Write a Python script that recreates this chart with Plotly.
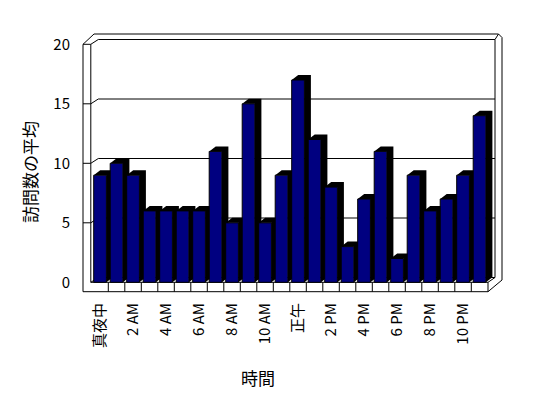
import plotly.graph_objects as go

# ---------------- data ----------------
hour_index = list(range(24))
visits = [9, 10, 9, 6, 6, 6, 6, 11, 5, 15, 5, 9, 17, 12, 8, 3, 7, 11, 2, 9, 6, 7, 9, 14]
tick_positions = [0, 2, 4, 6, 8, 10, 12, 14, 16, 18, 20, 22]
tick_labels = ["真夜中", "2 AM", "4 AM", "6 AM", "8 AM", "10 AM", "正午",
               "2 PM", "4 PM", "6 PM", "8 PM", "10 PM"]
y_ticks = [0, 5, 10, 15, 20]
x_title = "時間"
y_title = "訪問数の平均"

# ---------------- geometry (pixels) ----------------
W, H = 548, 398
PL, PR, PT, PB = 80, 506, 30, 296      # plot area edges
CAT0, CATW = 91.8, 16.5                 # category band start / width
Y0PX, YUNIT = 282.3, 11.9               # pixel of value 0, pixels per unit
BW = 0.77                               # bar width fraction
BDX, BDY = 6.5, 5.0                     # bar depth offsets (px)
WDX, WDY = 7.5, 4.8                     # wall depth offsets (px)


def X(px):
    return (px - CAT0) / CATW - 0.5


def Y(py):
    return (Y0PX - py) / YUNIT


def py_of(v):
    return Y0PX - v * YUNIT


shapes = []


def line(x1, y1, x2, y2):
    shapes.append(dict(type="line", xref="x", yref="y",
                       x0=X(x1), y0=Y(y1), x1=X(x2), y1=Y(y2),
                       line=dict(color="black", width=1), layer="below"))


FL = 83.0          # left wall outer front edge
FI = 90.8          # left wall inner front edge
BL = FI + WDX      # back wall left edge
BR = 495.0         # back wall right inner edge
OR = 502.0         # outer right edge
FR = 488.0         # floor front right
FB = 291.7         # floor front bottom
top_front = py_of(20)
top_back = top_front - WDY

# left wall front face
line(FL, top_front, FL, FB)
line(FI, top_front, FI, Y0PX)
line(FL, top_front, FI, top_front)
# top edges
line(FL, top_front, 94, 34)
line(FI, top_front, BL, top_back)
line(94, 34, 498.5, 34)
line(498.5, 34, OR, 37.5)
line(OR, 37.5, OR, 280)
line(BL, top_back, BR, top_back)
line(BR, top_back, 498.5, 34)
line(BR, top_back, BR, Y0PX - WDY)
# gridlines
for v in y_ticks[1:-1]:
    yf = py_of(v)
    line(FL, yf, FI, yf)
    line(FI, yf, BL, yf - WDY)
    line(BL, yf - WDY, BR, yf - WDY)
line(FI, Y0PX, BL, Y0PX - WDY)
line(BL, Y0PX - WDY, BR, Y0PX - WDY)
# floor front face
line(FI, Y0PX, FR, Y0PX)
line(FL, FB, FR, FB)
line(FR, Y0PX, FR, FB)
for k in range(1, 24):
    xk = CAT0 + CATW * k
    line(xk, Y0PX, xk, FB)
# floor right side
line(FR, FB, OR, 280)
line(FR, Y0PX, BR, Y0PX - WDY)

# bar depth faces (top + right side), drawn behind the fronts
ddx = BDX / CATW
ddy = BDY / YUNIT
for i, v in zip(hour_index, visits):
    x0 = i - BW / 2
    x1 = i + BW / 2
    path = (f"M {x0},{v} L {x0 + ddx},{v + ddy} L {x1 + ddx},{v + ddy} "
            f"L {x1 + ddx},{ddy} L {x1},0 L {x1},{v} Z")
    shapes.append(dict(type="path", xref="x", yref="y", path=path,
                       fillcolor="black", line=dict(width=0), layer="below"))

fig = go.Figure()
fig.add_trace(go.Bar(
    x=hour_index, y=visits, width=BW,
    marker=dict(color="#000080", line=dict(color="black", width=1)),
    showlegend=False, hoverinfo="x+y"))

FONT = "Noto Sans CJK JP"

fig.update_layout(
    width=W, height=H, autosize=False,
    margin=dict(l=PL, r=W - PR, t=PT, b=H - PB, pad=0),
    paper_bgcolor="white", plot_bgcolor="white",
    font=dict(family=FONT, size=15, color="black"),
    shapes=shapes,
    xaxis=dict(range=[X(PL), X(PR)], tickvals=tick_positions, ticktext=tick_labels,
               tickangle=-90, showgrid=False, zeroline=False, showline=False,
               ticks="", ticklabelstandoff=3, fixedrange=True),
    yaxis=dict(range=[Y(PB), Y(PT)], tickvals=y_ticks, showgrid=False,
               zeroline=False, showline=False, ticks="", ticklabelstandoff=9,
               fixedrange=True),
    annotations=[
        dict(text=y_title, xref="paper", yref="paper",
             x=(29 - PL) / (PR - PL), y=(PB - 172) / (PB - PT),
             textangle=-90, showarrow=False, font=dict(size=17),
             xanchor="center", yanchor="middle"),
        dict(text=x_title, xref="paper", yref="paper",
             x=(258 - PL) / (PR - PL), y=(PB - 377) / (PB - PT),
             showarrow=False, font=dict(size=17),
             xanchor="center", yanchor="middle"),
    ],
)

fig.write_html("out.html", config={"displayModeBar": False},
               post_script="document.body.style.margin='0';")
